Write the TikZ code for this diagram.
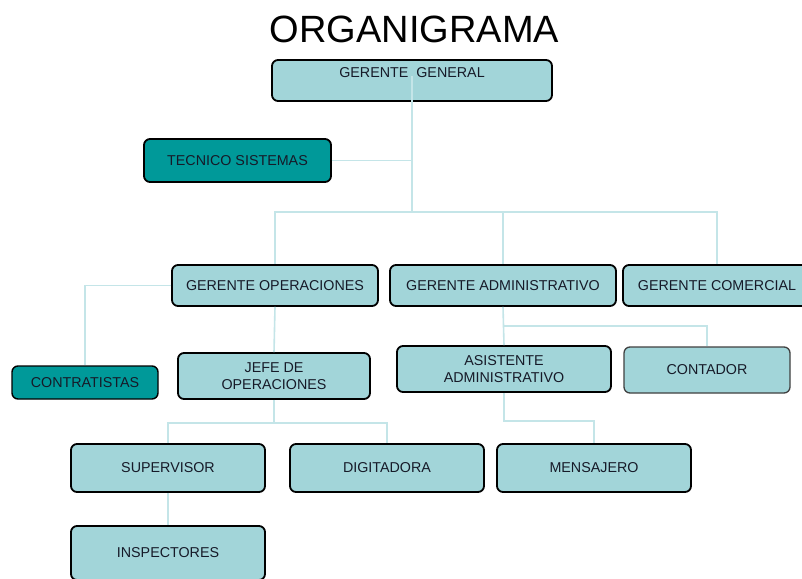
\documentclass[tikz,border=0pt]{standalone}
\usepackage{fontspec}
\setmainfont{Liberation Sans}
\usepackage{tikz}

\definecolor{cajaclara}{RGB}{162,213,217}
\definecolor{cajaoscura}{RGB}{0,153,153}
\definecolor{linea}{RGB}{196,229,232}
\definecolor{texto}{RGB}{22,26,40}

\tikzset{
  caja/.style={draw=black, line width=1.8pt, rounded corners=6pt, fill=cajaclara,
    text=texto, font=\fontsize{14.3}{16.5}\selectfont, align=center, inner sep=0pt},
  cajaosc/.style={caja, fill=cajaoscura},
  enlace/.style={draw=linea, line width=1.6pt}
}

\begin{document}
\begin{tikzpicture}[x=1pt, y=-1pt]
                        \useasboundingbox[fill=white] (0,0) rectangle (802,578);
                        \node[text=black, font=\fontsize{38}{41}\selectfont] (titulo) at (414.5,29) {ORGANIGRAMA};
                        \node[caja, minimum width=280pt, minimum height=41pt] (gg) at (412,80.5) {GERENTE\ \ GENERAL\\ \mbox{}};
                        \node[cajaosc, minimum width=187pt, minimum height=43pt] (ts) at (237.5,160.5) {TECNICO SISTEMAS};
                        \node[caja, minimum width=206pt, minimum height=41pt] (go) at (275,285.5) {GERENTE OPERACIONES};
                        \node[caja, minimum width=226pt, minimum height=41pt] (ga) at (503,285.5) {GERENTE ADMINISTRATIVO};
                        \node[caja, minimum width=188pt, minimum height=41pt] (gc) at (717,285.5) {GERENTE COMERCIAL};
                        \node[cajaosc, minimum width=146pt, minimum height=33pt, line width=1.4pt] (ct) at (85,382.5) {CONTRATISTAS};
                        \node[caja, minimum width=192pt, minimum height=46pt] (jo) at (274,376) {JEFE DE\\OPERACIONES};
                        \node[caja, minimum width=214pt, minimum height=46pt] (aa) at (504,369) {ASISTENTE\\ADMINISTRATIVO};
                        \node[caja, minimum width=166pt, minimum height=46pt, draw=black!75, line width=1.3pt] (cont) at (707,370) {CONTADOR};
                        \node[caja, minimum width=194pt, minimum height=48pt] (sup) at (168,468) {SUPERVISOR};
                        \node[caja, minimum width=194pt, minimum height=48pt] (dig) at (387,468) {DIGITADORA};
                        \node[caja, minimum width=194pt, minimum height=48pt] (mens) at (594,468) {MENSAJERO};
                        \node[caja, minimum width=194pt, minimum height=54pt] (insp) at (168,553) {INSPECTORES};
                        \coordinate (bus) at (412,212);
                        \coordinate (busjo) at (274,423);
                        \coordinate (busga) at (503,326);
                        \draw[enlace] (412,76) -- (bus);
                        \draw[enlace] (ts.east) -- (ts.east -| bus);
                        \draw[enlace] (go.north) |- (bus) -| (gc.north);
                        \draw[enlace] (ga.north) -- (ga.north |- bus);
                        \draw[enlace] (go.west) -| (ct.north);
                        \draw[enlace] (go.south) -- (jo.north);
                        \draw[enlace] (jo.south) -- (busjo);
                        \draw[enlace] (sup.north) |- (busjo) -| (dig.north);
                        \draw[enlace] (ga.south) -- (aa.north);
                        \draw[enlace] (busga) -| (cont.north);
                        \draw[enlace] (aa.south) -- ++(0,28) -| (mens.north);
                        \draw[enlace] (sup.south) -- (insp.north);
                  \end{tikzpicture}
\end{document}
